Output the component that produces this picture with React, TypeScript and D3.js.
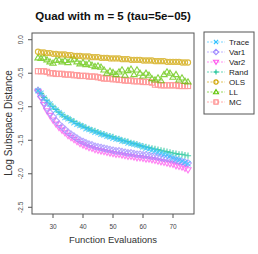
import React from "react";
import * as d3 from "d3";

const evals = d3.range(25, 76);
const xTicks = [30, 40, 50, 60, 70];
const yTicks = [0, -0.5, -1, -1.5, -2, -2.5];
const yTickLabels = ["0.0", "-0.5", "-1.0", "-1.5", "-2.0", "-2.5"];

const traceVals = [-0.76,-0.8,-0.87,-0.92,-0.96,-1.01,-1.05,-1.09,-1.12,-1.16,-1.18,-1.21,-1.24,-1.26,-1.28,-1.3,-1.33,-1.34,-1.36,-1.38,-1.39,-1.41,-1.42,-1.44,-1.45,-1.47,-1.48,-1.49,-1.51,-1.52,-1.54,-1.55,-1.56,-1.57,-1.58,-1.6,-1.62,-1.63,-1.65,-1.66,-1.68,-1.69,-1.71,-1.72,-1.74,-1.76,-1.78,-1.79,-1.81,-1.83,-1.85];
const var1Vals = [-0.76,-0.85,-0.94,-1.02,-1.09,-1.15,-1.21,-1.26,-1.3,-1.34,-1.38,-1.41,-1.44,-1.47,-1.5,-1.52,-1.54,-1.56,-1.57,-1.59,-1.6,-1.61,-1.62,-1.63,-1.64,-1.65,-1.66,-1.66,-1.67,-1.68,-1.69,-1.69,-1.7,-1.71,-1.71,-1.72,-1.72,-1.73,-1.74,-1.74,-1.75,-1.76,-1.77,-1.77,-1.78,-1.79,-1.8,-1.81,-1.82,-1.83,-1.84];
const var2Vals = [-0.77,-0.87,-0.97,-1.06,-1.13,-1.2,-1.26,-1.31,-1.35,-1.39,-1.43,-1.46,-1.49,-1.52,-1.55,-1.57,-1.59,-1.61,-1.62,-1.64,-1.65,-1.66,-1.67,-1.68,-1.69,-1.7,-1.71,-1.71,-1.72,-1.73,-1.74,-1.74,-1.75,-1.76,-1.76,-1.77,-1.78,-1.78,-1.79,-1.8,-1.81,-1.82,-1.83,-1.84,-1.85,-1.86,-1.88,-1.89,-1.9,-1.92,-1.94];
const randVals = [-0.75,-0.8,-0.86,-0.91,-0.96,-1.0,-1.04,-1.08,-1.12,-1.15,-1.17,-1.2,-1.22,-1.25,-1.27,-1.29,-1.31,-1.33,-1.35,-1.36,-1.38,-1.4,-1.41,-1.43,-1.44,-1.45,-1.47,-1.48,-1.5,-1.51,-1.52,-1.54,-1.55,-1.56,-1.58,-1.59,-1.6,-1.61,-1.62,-1.63,-1.64,-1.65,-1.66,-1.67,-1.68,-1.69,-1.7,-1.71,-1.71,-1.72,-1.73];
const olsVals = [-0.18,-0.19,-0.19,-0.2,-0.2,-0.21,-0.21,-0.22,-0.22,-0.22,-0.23,-0.23,-0.24,-0.24,-0.24,-0.25,-0.25,-0.25,-0.26,-0.26,-0.26,-0.27,-0.27,-0.27,-0.28,-0.28,-0.28,-0.28,-0.29,-0.29,-0.29,-0.3,-0.3,-0.3,-0.3,-0.31,-0.31,-0.31,-0.31,-0.32,-0.32,-0.32,-0.32,-0.33,-0.33,-0.33,-0.33,-0.33,-0.34,-0.34,-0.34];
const llVals = [-0.27,-0.28,-0.27,-0.3,-0.33,-0.35,-0.31,-0.3,-0.33,-0.31,-0.34,-0.3,-0.29,-0.33,-0.36,-0.34,-0.37,-0.35,-0.38,-0.4,-0.39,-0.41,-0.45,-0.5,-0.47,-0.49,-0.52,-0.48,-0.45,-0.53,-0.46,-0.44,-0.52,-0.45,-0.5,-0.54,-0.5,-0.53,-0.58,-0.6,-0.57,-0.61,-0.52,-0.48,-0.5,-0.56,-0.52,-0.6,-0.57,-0.62,-0.63];
const mcVals = [-0.47,-0.47,-0.47,-0.48,-0.5,-0.5,-0.51,-0.51,-0.51,-0.52,-0.52,-0.52,-0.53,-0.53,-0.54,-0.54,-0.54,-0.55,-0.55,-0.55,-0.56,-0.57,-0.58,-0.58,-0.58,-0.59,-0.59,-0.6,-0.6,-0.61,-0.61,-0.61,-0.62,-0.62,-0.62,-0.63,-0.63,-0.63,-0.64,-0.67,-0.67,-0.68,-0.68,-0.68,-0.68,-0.68,-0.68,-0.69,-0.69,-0.69,-0.69];

const seriesNames = ["Trace", "Var1", "Var2", "Rand", "OLS", "LL", "MC"];
const seriesColors = ["#2ec0ff", "#a08aff", "#ff55ee", "#0fc092", "#d0a400", "#5ec400", "#ff7d7d"];
const seriesShapes = ["x", "diamond", "tridown", "plus", "circle", "triup", "square"];
const seriesValues = [traceVals, var1Vals, var2Vals, randVals, olsVals, llVals, mcVals];

function Marker({ shape, x, y, color, s = 2.6 }: { shape: string; x: number; y: number; color: string; s?: number }) {
  const common = { fill: "none", stroke: color, strokeWidth: 1.1 };
  switch (shape) {
    case "x":
      return <path d={`M${x - s},${y - s}L${x + s},${y + s}M${x - s},${y + s}L${x + s},${y - s}`} {...common} />;
    case "plus":
      return <path d={`M${x - s * 1.2},${y}L${x + s * 1.2},${y}M${x},${y - s * 1.2}L${x},${y + s * 1.2}`} {...common} />;
    case "diamond":
      return <path d={`M${x},${y - s * 1.3}L${x + s * 1.3},${y}L${x},${y + s * 1.3}L${x - s * 1.3},${y}Z`} {...common} />;
    case "tridown":
      return <path d={`M${x - s * 1.2},${y - s * 0.8}L${x + s * 1.2},${y - s * 0.8}L${x},${y + s * 1.2}Z`} {...common} />;
    case "triup":
      return <path d={`M${x - s * 1.2},${y + s * 0.8}L${x + s * 1.2},${y + s * 0.8}L${x},${y - s * 1.2}Z`} {...common} />;
    case "circle":
      return <circle cx={x} cy={y} r={s} {...common} />;
    case "square":
      return <rect x={x - s} y={y - s} width={2 * s} height={2 * s} {...common} />;
  }
  return null;
}

export default function App() {
  const W = 258, H = 254;
  const left = 32, right = 194, top = 33, bottom = 214;
  const x = d3.scaleLinear().domain([23, 77]).range([left, right]);
  const y = d3.scaleLinear().domain([-2.6, 0.1]).range([bottom, top]);
  const font = "Liberation Sans, Arial, Helvetica, sans-serif";
  const axisColor = "#555";
  const drawOrder = [6, 5, 4, 3, 2, 1, 0];
  return (
    <svg width={W} height={H} style={{ position: "absolute", left: 0, top: 0 }} fontFamily={font}>
      <rect width={W} height={H} fill="#fff" />
      <text x={113} y={20} textAnchor="middle" fontWeight="bold" fontSize={11.5} fill="#111">
        Quad with m = 5 (tau=5e−05)
      </text>
      {drawOrder.map((si) => (
        <g key={si} opacity={0.75}>
          {evals.map((e, i) => (
            <Marker key={i} shape={seriesShapes[si]} x={x(e)} y={y(seriesValues[si][i])} color={seriesColors[si]} />
          ))}
        </g>
      ))}
      <rect x={left} y={top} width={right - left} height={bottom - top} fill="none" stroke={axisColor} strokeWidth={1} />
      {xTicks.map((t) => (
        <g key={t}>
          <line x1={x(t)} x2={x(t)} y1={bottom} y2={bottom + 4} stroke={axisColor} />
          <text x={x(t)} y={229} textAnchor="middle" fontSize={6.5} fill="#444">{t}</text>
        </g>
      ))}
      {yTicks.map((t, i) => (
        <g key={t}>
          <line x1={left - 4} x2={left} y1={y(t)} y2={y(t)} stroke={axisColor} />
          <text transform={`translate(22.5,${y(t)}) rotate(-90)`} textAnchor="middle" fontSize={6.5} fill="#444">{yTickLabels[i]}</text>
        </g>
      ))}
      <text x={113} y={243} textAnchor="middle" fontSize={9.5} fill="#333">Function Evaluations</text>
      <text transform={`translate(12,123) rotate(-90)`} textAnchor="middle" fontSize={10} fill="#333">Log Subspace Distance</text>
      <rect x={204} y={32} width={50} height={82} fill="#fff" stroke={axisColor} strokeWidth={1} />
      {seriesNames.map((n, i) => {
        const ly = 42 + i * 10;
        return (
          <g key={n}>
            <line x1={207} x2={225} y1={ly} y2={ly} stroke={seriesColors[i]} strokeDasharray="2,1.5" strokeWidth={0.8} opacity={0.8} />
            <Marker shape={seriesShapes[i]} x={216} y={ly} color={seriesColors[i]} s={2.1} />
            <text x={229} y={ly + 2.8} fontSize={8} fill="#222">{n}</text>
          </g>
        );
      })}
    </svg>
  );
}
